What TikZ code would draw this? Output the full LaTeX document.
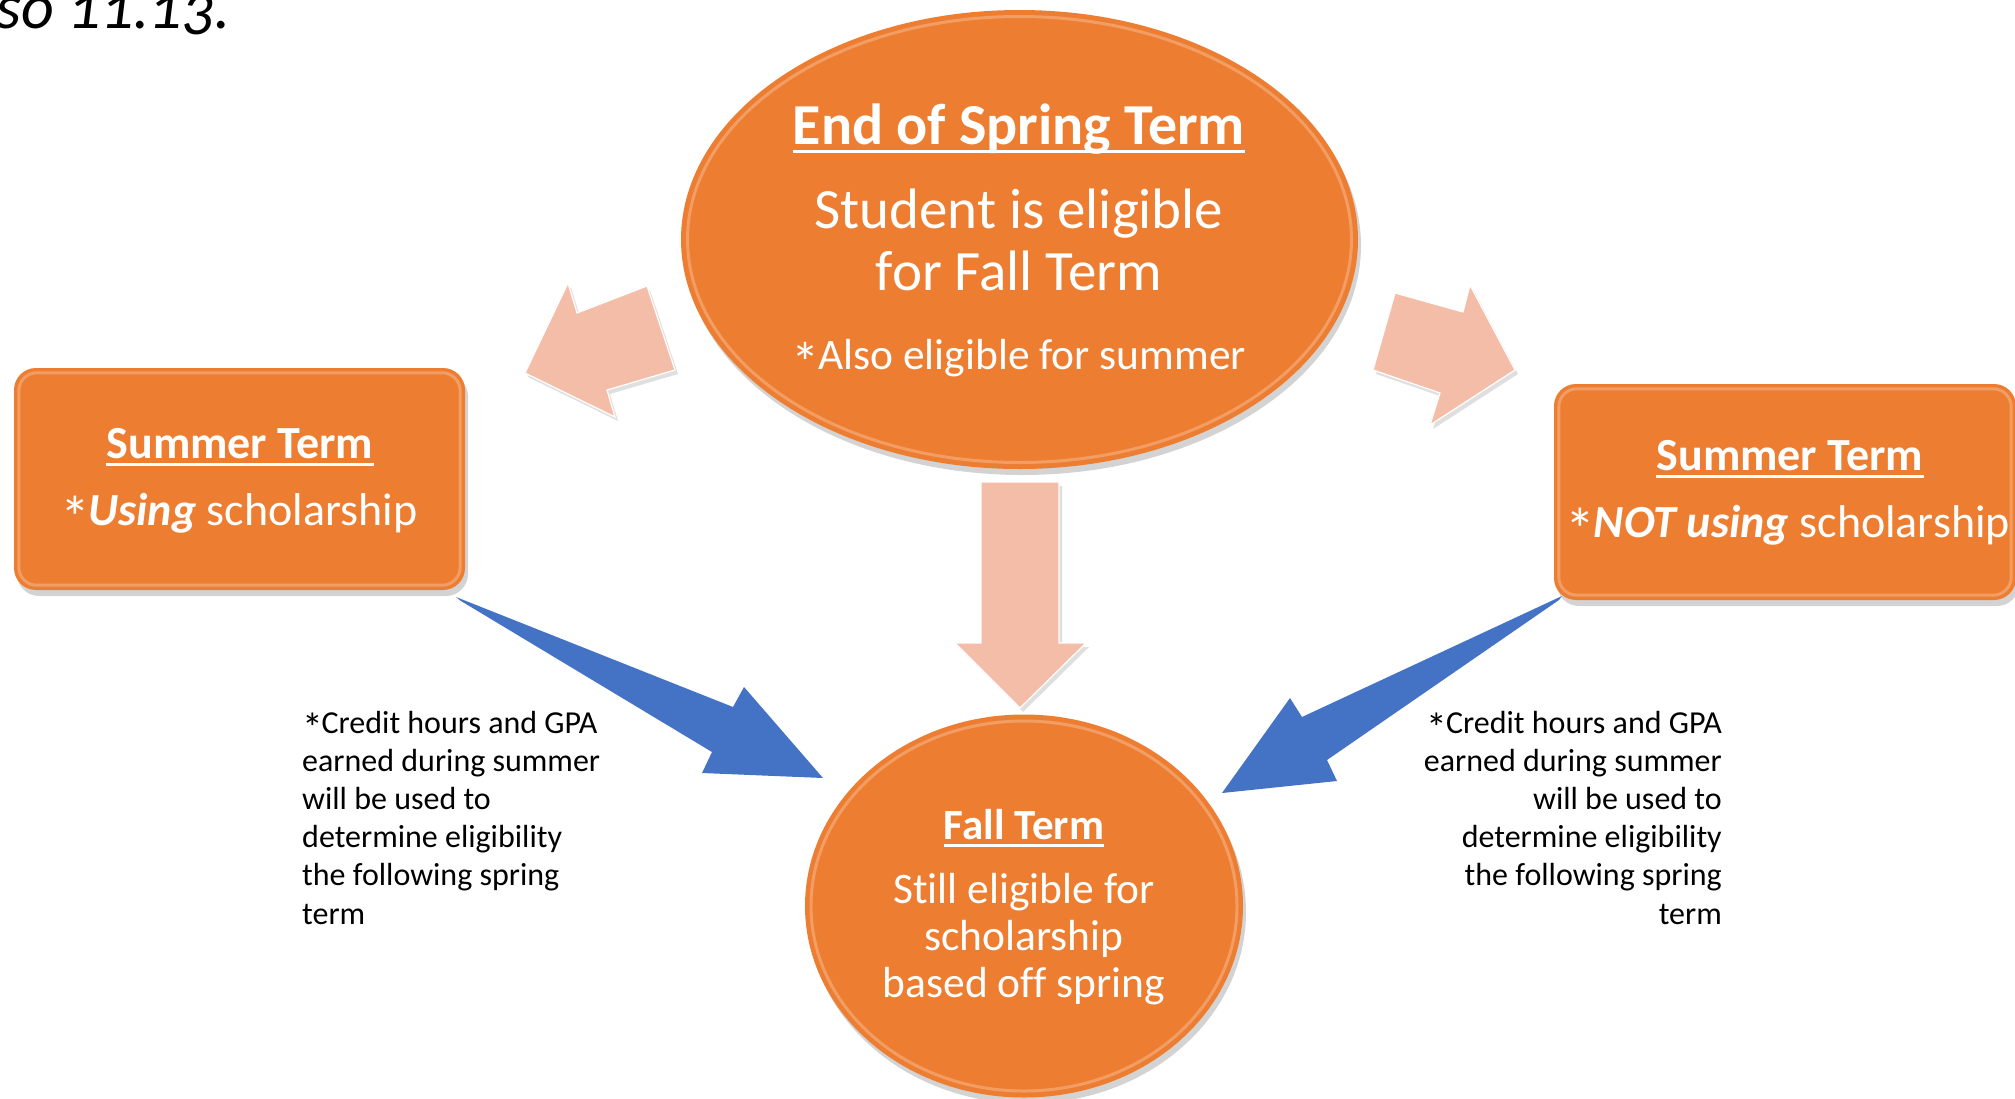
\documentclass[tikz,border=0pt]{standalone}
\usepackage{fontspec}
\setmainfont{Carlito}[Ligatures={NoCommon}]
\usetikzlibrary{shapes.geometric,shadows}
\definecolor{orng}{HTML}{ED7D31}
\definecolor{pinkarr}{HTML}{F4BDA8}
\definecolor{bluearr}{HTML}{4472C4}
\newcommand\fsz[2]{\fontsize{#1}{#2}\selectfont}
\newcommand\bigast{\smash{\raisebox{-0.3em}{\scalebox{1.3}{*}}}\hspace{-0.04em}}
\begin{document}
\begin{tikzpicture}[x=1pt,y=-1pt,
  shapeshadow/.style={drop shadow={opacity=0.35,shadow xshift=3pt,shadow yshift=-6pt}},
  termellipse/.style={ellipse,fill=orng,draw=none,inner sep=0pt,shapeshadow},
  termbox/.style={rectangle,rounded corners=22pt,fill=orng,draw=none,inner sep=0pt,shapeshadow},
  pinkblock/.style={fill=pinkarr,draw=white,line width=1.2pt,line join=miter,
     drop shadow={opacity=0.25,shadow xshift=3pt,shadow yshift=-4pt}},
  bluewedge/.style={fill=bluearr,draw=none},
  wtxt/.style={text=white,inner sep=0pt,anchor=base},
  big/.style={font=\fsz{57}{62}},
  bigb/.style={font=\fsz{58}{62}\bfseries},
  mid/.style={font=\fsz{43.5}{47}},
  midb/.style={font=\fsz{43}{47}\bfseries},
  boxt/.style={font=\fsz{46}{50}},
  boxtb/.style={font=\fsz{46}{50}\bfseries},
  note/.style={font=\fsz{32}{38}, text=black, inner sep=0pt},
  ulline/.style={draw=white,line width=3pt},
  bevel/.style={draw=white,opacity=0.25,line width=3pt}
]
\useasboundingbox (0,0) rectangle (2015,1098);
\clip (0,0) rectangle (2015,1098);

% title fragment
\node[inner sep=0pt,anchor=base east,font=\fsz{64}{70}\itshape\addfontfeatures{Numbers=OldStyle}] (title) at (231,28) {so 11.13.};

% shapes
\node[termellipse,minimum width=677pt,minimum height=459pt] (spring) at (1019.5,239.5) {};
\node[termellipse,minimum width=438pt,minimum height=383pt] (fall) at (1024,906) {};
\node[termbox,minimum width=451pt,minimum height=222pt] (sumL) at (239.5,479) {};
\node[termbox,minimum width=462pt,minimum height=216pt] (sumR) at (1785,492) {};

% bevel highlights
\draw[bevel] (spring.center) ellipse [x radius=332pt,y radius=223pt];
\draw[bevel] (fall.center) ellipse [x radius=213pt,y radius=185pt];
\draw[bevel,rounded corners=18pt] ([xshift=5pt,yshift=-5pt]sumL.north west) rectangle ([xshift=-5pt,yshift=5pt]sumL.south east);
\draw[bevel,rounded corners=18pt] ([xshift=5pt,yshift=-5pt]sumR.north west) rectangle ([xshift=-5pt,yshift=5pt]sumR.south east);

% pink block arrows
\draw[pinkblock] (525,373) -- (568,283) -- (577,313) -- (647,286) -- (675,370) -- (607,390) -- (615,417) -- cycle;
\draw[pinkblock] (1395,293) -- (1463,312) -- (1470,285) -- (1515,370) -- (1430,425) -- (1440,393) -- (1373,370) -- cycle;
\draw[pinkblock] (981,482) -- (1059,482) -- (1059,643) -- (1086,643) -- (1020,708) -- (955,643) -- (981,643) -- cycle;

% blue wedge arrows
\fill[bluewedge] (456,597) -- (733,707) -- (744,687) -- (823,778) -- (702,773) -- (712,752) -- (461,601) -- cycle;
\fill[bluewedge] (1562,596) -- (1302,717) -- (1290,698) -- (1222,793) -- (1337,781) -- (1327,760) -- (1559,600) -- cycle;

% top ellipse text
\node[wtxt,bigb] (h1) at (1019,144) {End of Spring Term};
\draw[ulline] ([yshift=-7pt]h1.base west) -- ([yshift=-7pt]h1.base east);
\node[wtxt,big] (s1) at (1019,228) {Student is eligible};
\node[wtxt,big] (s2) at (1019,290) {for Fall Term};
\node[wtxt,mid] (s3) at (1019,369) {\bigast Also eligible for summer};

% bottom ellipse text
\node[wtxt,midb] (h2) at (1024,839) {Fall Term};
\draw[ulline] ([yshift=-6pt]h2.base west) -- ([yshift=-6pt]h2.base east);
\node[wtxt,mid] (f1) at (1024,903) {Still eligible for};
\node[wtxt,mid] (f2) at (1024,950) {scholarship};
\node[wtxt,mid] (f3) at (1024,997) {based off spring};

% left box text
\node[wtxt,boxtb] (h3) at (240,458) {Summer Term};
\draw[ulline] ([yshift=-6pt]h3.base west) -- ([yshift=-6pt]h3.base east);
\node[wtxt,boxt] (l1) at (239,525) {\bigast\textbf{\textit{Using}} scholarship};

% right box text
\node[wtxt,boxtb] (h4) at (1790,470) {Summer Term};
\draw[ulline] ([yshift=-6pt]h4.base west) -- ([yshift=-6pt]h4.base east);
\node[wtxt,boxt] (r1) at (1788,537) {\bigast\textbf{\textit{NOT using}} scholarship};

% side notes
\foreach \t [count=\i from 0] in {\bigast Credit hours and GPA,earned during summer,will be used to,determine eligibility,the following spring,term}{
  \node[note,anchor=base west] (nl\i) at (302,733+38.2*\i) {\t};
  \node[note,anchor=base east] (nr\i) at (1722,733+38.2*\i) {\t};
}
\end{tikzpicture}
\end{document}
